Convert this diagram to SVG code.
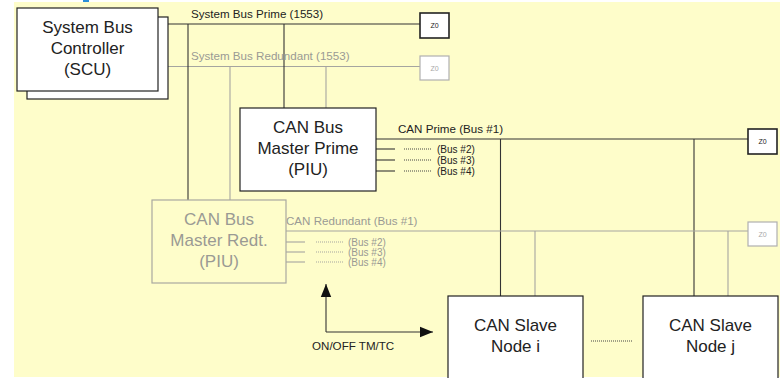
<svg xmlns="http://www.w3.org/2000/svg" width="782" height="378" viewBox="0 0 782 378">
  <style>
    .bg { fill: #fefdca; }
    .box { fill: #ffffff; stroke: #222222; stroke-width: 1.2; }
    .box-r { fill: #fefdca; stroke: #a8a8a0; stroke-width: 1.2; }
    .term { fill: #ffffff; stroke: #222222; stroke-width: 1.6; }
    .term-r { fill: #ffffff; stroke: #b0b0b0; stroke-width: 1.2; }
    .big { font-family: "Liberation Sans", Arial, sans-serif; font-size: 17px; fill: #222222; text-anchor: middle; }
    .big-r { font-family: "Liberation Sans", Arial, sans-serif; font-size: 17px; fill: #9a9a94; text-anchor: middle; }
    .lbl { font-family: "Liberation Sans", Arial, sans-serif; font-size: 11.6px; fill: #222222; }
    .lbl-r { font-family: "Liberation Sans", Arial, sans-serif; font-size: 11.6px; fill: #9a9a94; }
    .sub { font-size: 10px; }
    .z { font-family: "Liberation Sans", Arial, sans-serif; font-size: 7px; text-anchor: middle; fill: #222222; }
    .z-r { font-family: "Liberation Sans", Arial, sans-serif; font-size: 7px; text-anchor: middle; fill: #a8a8a8; }
    .w { fill: none; stroke: #333333; stroke-width: 1.1; }
    .w-r { fill: none; stroke: #a5a5a0; stroke-width: 1.1; }
    .dot { fill: none; stroke: #444444; stroke-width: 1; stroke-dasharray: 1 1; }
    .dot-r { fill: none; stroke: #a5a5a0; stroke-width: 1; stroke-dasharray: 1 1; }
  </style>
  <defs>
    <marker id="arrow" viewBox="0 0 10 10" refX="10" refY="5" markerWidth="13" markerHeight="13" markerUnits="userSpaceOnUse" orient="auto">
      <path d="M0,1 L10,5 L0,9 Z" fill="#111111"/>
    </marker>
  </defs>

  <!-- page background -->
  <rect x="0" y="0" width="782" height="378" fill="#ffffff"/>
  <rect class="bg" x="14" y="2" width="766" height="375"/>
  <rect x="83" y="0" width="6" height="2" fill="#2a8fd8"/>

  <!-- connectors -->
  <g id="connectors">
    <!-- 1553 system buses -->
    <line class="w" x1="168" y1="24" x2="420" y2="24"/>
    <line class="w-r" x1="168" y1="66.5" x2="420" y2="66.5"/>
    <line class="w" x1="188" y1="24" x2="188" y2="200"/>
    <line class="w-r" x1="230" y1="66.5" x2="230" y2="200"/>
    <line class="w" x1="284" y1="24" x2="284" y2="108"/>
    <line class="w-r" x1="326" y1="66.5" x2="326" y2="108"/>

    <!-- CAN prime bus -->
    <line class="w" x1="376" y1="139" x2="748" y2="139"/>
    <line class="w" x1="500.5" y1="139" x2="500.5" y2="296"/>
    <line class="w" x1="694" y1="139" x2="694" y2="296"/>
    <line class="w" x1="376" y1="149" x2="395" y2="149"/>
    <line class="w" x1="376" y1="160" x2="395" y2="160"/>
    <line class="w" x1="376" y1="171" x2="395" y2="171"/>
    <line class="dot" x1="404" y1="149" x2="432" y2="149"/>
    <line class="dot" x1="404" y1="160" x2="432" y2="160"/>
    <line class="dot" x1="404" y1="171" x2="432" y2="171"/>

    <!-- CAN redundant bus -->
    <line class="w-r" x1="286" y1="231" x2="748" y2="231"/>
    <line class="w-r" x1="535" y1="231" x2="535" y2="296"/>
    <line class="w-r" x1="728" y1="231" x2="728" y2="296"/>
    <line class="w-r" x1="286" y1="242" x2="305" y2="242"/>
    <line class="w-r" x1="286" y1="252" x2="305" y2="252"/>
    <line class="w-r" x1="286" y1="262" x2="305" y2="262"/>
    <line class="dot-r" x1="316" y1="242" x2="343" y2="242"/>
    <line class="dot-r" x1="316" y1="252" x2="343" y2="252"/>
    <line class="dot-r" x1="316" y1="262" x2="343" y2="262"/>

    <!-- ON/OFF TM/TC -->
    <polyline class="w" points="326,332 326,284" marker-end="url(#arrow)"/>
    <polyline class="w" points="326,332 433,332" marker-end="url(#arrow)"/>

    <!-- further slave nodes -->
    <line class="dot" x1="591" y1="341" x2="633" y2="341"/>
  </g>

  <!-- bus labels -->
  <g id="bus-labels">
    <text class="lbl" x="191" y="18">System Bus Prime (1553)</text>
    <text class="lbl-r" x="191" y="60">System Bus Redundant (1553)</text>
    <text class="lbl" x="398" y="133">CAN Prime (Bus #1)</text>
    <text class="lbl sub" x="437" y="152.5">(Bus #2)</text>
    <text class="lbl sub" x="437" y="163.5">(Bus #3)</text>
    <text class="lbl sub" x="437" y="174.5">(Bus #4)</text>
    <text class="lbl-r" x="286" y="225">CAN Redundant (Bus #1)</text>
    <text class="lbl-r sub" x="348" y="245.5">(Bus #2)</text>
    <text class="lbl-r sub" x="348" y="255.5">(Bus #3)</text>
    <text class="lbl-r sub" x="348" y="265.5">(Bus #4)</text>
    <text class="lbl" x="312" y="350">ON/OFF TM/TC</text>
  </g>

  <!-- bus terminations -->
  <g id="z0-sys-prime">
    <rect class="term" x="420" y="13" width="29" height="25"/>
    <text class="z" x="434.5" y="28">Z0</text>
  </g>
  <g id="z0-sys-redundant">
    <rect class="term-r" x="420" y="56" width="29" height="24"/>
    <text class="z-r" x="434.5" y="70.5">Z0</text>
  </g>
  <g id="z0-can-prime">
    <rect class="term" x="748" y="129" width="29" height="25"/>
    <text class="z" x="762.5" y="144">Z0</text>
  </g>
  <g id="z0-can-redundant">
    <rect class="term-r" x="748" y="222" width="29" height="24"/>
    <text class="z-r" x="762.5" y="236.5">Z0</text>
  </g>

  <!-- system bus controller (dual) -->
  <g id="scu">
    <rect class="box" x="27" y="17" width="141" height="82"/>
    <rect class="box" x="17" y="8" width="141" height="83"/>
    <text class="big" x="87.5" y="33">System Bus</text>
    <text class="big" x="87.5" y="54">Controller</text>
    <text class="big" x="87.5" y="75">(SCU)</text>
  </g>

  <g id="can-master-prime">
    <rect class="box" x="240" y="108" width="136" height="83"/>
    <text class="big" x="308" y="133">CAN Bus</text>
    <text class="big" x="308" y="154">Master Prime</text>
    <text class="big" x="308" y="175">(PIU)</text>
  </g>

  <g id="can-master-redt">
    <rect class="box-r" x="152" y="200" width="134" height="83"/>
    <text class="big-r" x="219" y="225">CAN Bus</text>
    <text class="big-r" x="219" y="246">Master Redt.</text>
    <text class="big-r" x="219" y="267">(PIU)</text>
  </g>

  <g id="slave-i">
    <rect class="box" x="448" y="296" width="135" height="90"/>
    <text class="big" x="515.5" y="331">CAN Slave</text>
    <text class="big" x="515.5" y="352">Node i</text>
  </g>

  <g id="slave-j">
    <rect class="box" x="643" y="296" width="135" height="90"/>
    <text class="big" x="710.5" y="331">CAN Slave</text>
    <text class="big" x="710.5" y="352">Node j</text>
  </g>
</svg>
